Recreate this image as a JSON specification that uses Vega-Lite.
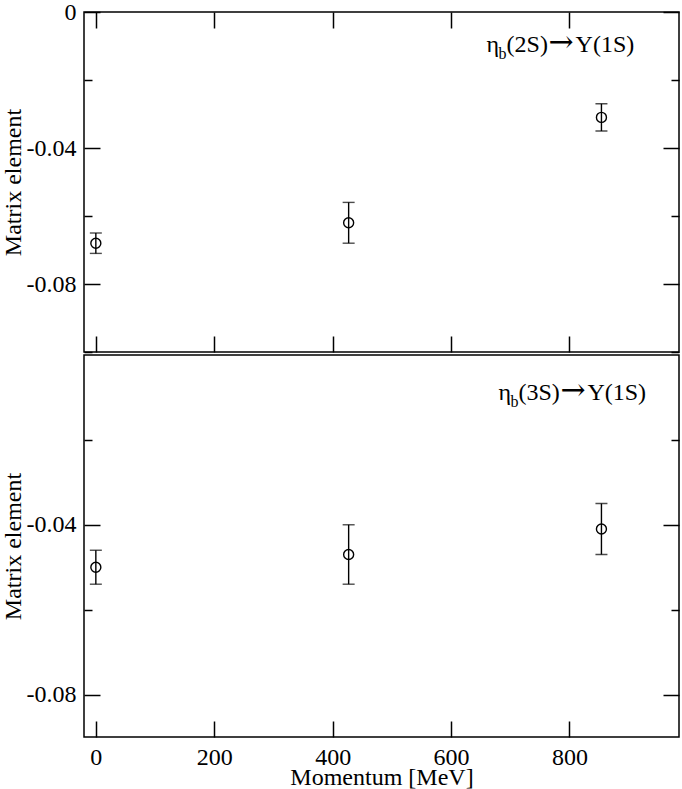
{
  "$schema": "https://vega.github.io/schema/vega-lite/v6.json",
  "autosize": {"type": "pad"},
  "padding": {"left": 0, "top": -1, "right": 3, "bottom": 0},
  "spacing": 0,
  "config": {
    "font": "Liberation Serif",
    "view": {"stroke": "black", "strokeWidth": 1.5},
    "axis": {
      "domain": false, "grid": false,
      "tickColor": "black", "tickWidth": 1.5,
      "labelColor": "black", "labelFontSize": 24, "labelFont": "Liberation Serif",
      "titleColor": "black", "titleFontSize": 24, "titleFont": "Liberation Serif", "titleFontWeight": "normal"
    },
    "text": {"color": "black", "baseline": "alphabetic", "align": "left", "font": "Liberation Serif", "fontSize": 24}
  },
  "datasets": {
    "top": [
      {"p": 0, "v": -0.068, "lo": -0.071, "hi": -0.065},
      {"p": 427, "v": -0.062, "lo": -0.068, "hi": -0.056},
      {"p": 854, "v": -0.031, "lo": -0.035, "hi": -0.027}
    ],
    "bottom": [
      {"p": 0, "v": -0.050, "lo": -0.054, "hi": -0.046},
      {"p": 427, "v": -0.047, "lo": -0.054, "hi": -0.040},
      {"p": 854, "v": -0.041, "lo": -0.047, "hi": -0.035}
    ],
    "labTop": [{"lx": 660, "ly": -0.0118, "a": "η", "b": "b", "c": "(2S)", "d": "→", "e": "Υ(1S)"}],
    "labBottom": [{"lx": 680, "ly": -0.0105, "a": "η", "b": "b", "c": "(3S)", "d": "→", "e": "Υ(1S)"}]
  },
  "vconcat": [
    {
      "width": 595, "height": 340,
      "data": {"name": "top"},
      "layer": [
        {
          "mark": {"type": "errorbar", "color": "black", "ticks": {"size": 12, "thickness": 1.4, "color": "black"}, "rule": {"strokeWidth": 1.4, "color": "black"}},
          "encoding": {
            "x": {"field": "p", "type": "quantitative", "scale": {"domain": [-20, 985]}, "axis": null},
            "y": {"field": "lo", "type": "quantitative", "scale": {"domain": [-0.1, 0]}, "axis": null},
            "y2": {"field": "hi"}
          }
        },
        {
          "mark": {"type": "point", "shape": "circle", "size": 100, "filled": false, "color": "black", "strokeWidth": 1.4, "opacity": 1},
          "encoding": {
            "x": {"field": "p", "type": "quantitative", "scale": {"domain": [-20, 985]},
              "axis": {"orient": "bottom", "values": [0, 200, 400, 600, 800], "labels": false, "title": null, "tickSize": 16, "offset": -16}},
            "y": {"field": "v", "type": "quantitative", "scale": {"domain": [-0.1, 0]},
              "axis": {"orient": "left", "values": [0, -0.04, -0.08], "title": "Matrix element", "titlePadding": 1,
                "labelExpr": "datum.value == 0 ? '0' : (datum.value == -0.04 ? '-0.04' : '-0.08')",
                "tickSize": 16, "offset": -16, "labelPadding": 8}}
          }
        },
        {
          "mark": {"type": "point", "opacity": 0},
          "encoding": {
            "x": {"field": "p", "type": "quantitative", "scale": {"domain": [-20, 985]},
              "axis": {"orient": "top", "values": [0, 200, 400, 600, 800], "labels": false, "title": null, "tickSize": 16, "offset": -16}},
            "y": {"field": "v", "type": "quantitative", "scale": {"domain": [-0.1, 0]},
              "axis": {"orient": "right", "values": [0, -0.04, -0.08], "labels": false, "title": null, "tickSize": 16, "offset": -16}}
          }
        },
        {
          "mark": {"type": "point", "opacity": 0},
          "encoding": {
            "x": {"field": "p", "type": "quantitative", "scale": {"domain": [-20, 985]}, "axis": null},
            "y": {"field": "v", "type": "quantitative", "scale": {"domain": [-0.1, 0]},
              "axis": {"orient": "left", "values": [-0.02, -0.06, -0.1], "labels": false, "title": null, "tickSize": 8, "offset": -8}}
          }
        },
        {
          "mark": {"type": "point", "opacity": 0},
          "encoding": {
            "x": {"field": "p", "type": "quantitative", "scale": {"domain": [-20, 985]}, "axis": null},
            "y": {"field": "v", "type": "quantitative", "scale": {"domain": [-0.1, 0]},
              "axis": {"orient": "right", "values": [-0.02, -0.06, -0.1], "labels": false, "title": null, "tickSize": 8, "offset": -8}}
          }
        },
        {
          "data": {"name": "labTop"},
          "mark": {"type": "text"},
          "encoding": {
            "x": {"field": "lx", "type": "quantitative", "scale": {"domain": [-20, 985]}, "axis": null},
            "y": {"field": "ly", "type": "quantitative", "scale": {"domain": [-0.1, 0]}, "axis": null},
            "text": {"field": "a"}
          }
        },
        {
          "data": {"name": "labTop"},
          "mark": {"type": "text", "fontSize": 16, "dx": 12, "dy": 7},
          "encoding": {
            "x": {"field": "lx", "type": "quantitative", "scale": {"domain": [-20, 985]}, "axis": null},
            "y": {"field": "ly", "type": "quantitative", "scale": {"domain": [-0.1, 0]}, "axis": null},
            "text": {"field": "b"}
          }
        },
        {
          "data": {"name": "labTop"},
          "mark": {"type": "text", "dx": 20},
          "encoding": {
            "x": {"field": "lx", "type": "quantitative", "scale": {"domain": [-20, 985]}, "axis": null},
            "y": {"field": "ly", "type": "quantitative", "scale": {"domain": [-0.1, 0]}, "axis": null},
            "text": {"field": "c"}
          }
        },
        {
          "data": {"name": "labTop"},
          "mark": {"type": "text", "dx": 62, "font": "DejaVu Serif", "fontSize": 30},
          "encoding": {
            "x": {"field": "lx", "type": "quantitative", "scale": {"domain": [-20, 985]}, "axis": null},
            "y": {"field": "ly", "type": "quantitative", "scale": {"domain": [-0.1, 0]}, "axis": null},
            "text": {"field": "d"}
          }
        },
        {
          "data": {"name": "labTop"},
          "mark": {"type": "text", "dx": 89},
          "encoding": {
            "x": {"field": "lx", "type": "quantitative", "scale": {"domain": [-20, 985]}, "axis": null},
            "y": {"field": "ly", "type": "quantitative", "scale": {"domain": [-0.1, 0]}, "axis": null},
            "text": {"field": "e"}
          }
        }
      ],
      "resolve": {"axis": {"x": "independent", "y": "independent"}}
    },
    {
      "width": 595, "height": 382,
      "data": {"name": "bottom"},
      "layer": [
        {
          "mark": {"type": "errorbar", "color": "black", "ticks": {"size": 12, "thickness": 1.4, "color": "black"}, "rule": {"strokeWidth": 1.4, "color": "black"}},
          "encoding": {
            "x": {"field": "p", "type": "quantitative", "scale": {"domain": [-20, 985]}, "axis": null},
            "y": {"field": "lo", "type": "quantitative", "scale": {"domain": [-0.09, 0]}, "axis": null},
            "y2": {"field": "hi"}
          }
        },
        {
          "mark": {"type": "point", "shape": "circle", "size": 100, "filled": false, "color": "black", "strokeWidth": 1.4, "opacity": 1},
          "encoding": {
            "x": {"field": "p", "type": "quantitative", "scale": {"domain": [-20, 985]},
              "axis": {"orient": "bottom", "values": [0, 200, 400, 600, 800], "format": "d", "title": "Momentum [MeV]", "tickSize": 16, "offset": -16, "labelPadding": 8, "titlePadding": -4}},
            "y": {"field": "v", "type": "quantitative", "scale": {"domain": [-0.09, 0]},
              "axis": {"orient": "left", "values": [-0.04, -0.08], "title": "Matrix element", "titlePadding": 1,
                "labelExpr": "datum.value == -0.04 ? '-0.04' : '-0.08'",
                "tickSize": 16, "offset": -16, "labelPadding": 8}}
          }
        },
        {
          "mark": {"type": "point", "opacity": 0},
          "encoding": {
            "x": {"field": "p", "type": "quantitative", "scale": {"domain": [-20, 985]}, "axis": null},
            "y": {"field": "v", "type": "quantitative", "scale": {"domain": [-0.09, 0]},
              "axis": {"orient": "right", "values": [-0.04, -0.08], "labels": false, "title": null, "tickSize": 16, "offset": -16}}
          }
        },
        {
          "mark": {"type": "point", "opacity": 0},
          "encoding": {
            "x": {"field": "p", "type": "quantitative", "scale": {"domain": [-20, 985]}, "axis": null},
            "y": {"field": "v", "type": "quantitative", "scale": {"domain": [-0.09, 0]},
              "axis": {"orient": "left", "values": [-0.02, -0.06], "labels": false, "title": null, "tickSize": 8, "offset": -8}}
          }
        },
        {
          "mark": {"type": "point", "opacity": 0},
          "encoding": {
            "x": {"field": "p", "type": "quantitative", "scale": {"domain": [-20, 985]}, "axis": null},
            "y": {"field": "v", "type": "quantitative", "scale": {"domain": [-0.09, 0]},
              "axis": {"orient": "right", "values": [-0.02, -0.06], "labels": false, "title": null, "tickSize": 8, "offset": -8}}
          }
        },
        {
          "data": {"name": "labBottom"},
          "mark": {"type": "text"},
          "encoding": {
            "x": {"field": "lx", "type": "quantitative", "scale": {"domain": [-20, 985]}, "axis": null},
            "y": {"field": "ly", "type": "quantitative", "scale": {"domain": [-0.09, 0]}, "axis": null},
            "text": {"field": "a"}
          }
        },
        {
          "data": {"name": "labBottom"},
          "mark": {"type": "text", "fontSize": 16, "dx": 12, "dy": 7},
          "encoding": {
            "x": {"field": "lx", "type": "quantitative", "scale": {"domain": [-20, 985]}, "axis": null},
            "y": {"field": "ly", "type": "quantitative", "scale": {"domain": [-0.09, 0]}, "axis": null},
            "text": {"field": "b"}
          }
        },
        {
          "data": {"name": "labBottom"},
          "mark": {"type": "text", "dx": 20},
          "encoding": {
            "x": {"field": "lx", "type": "quantitative", "scale": {"domain": [-20, 985]}, "axis": null},
            "y": {"field": "ly", "type": "quantitative", "scale": {"domain": [-0.09, 0]}, "axis": null},
            "text": {"field": "c"}
          }
        },
        {
          "data": {"name": "labBottom"},
          "mark": {"type": "text", "dx": 62, "font": "DejaVu Serif", "fontSize": 30},
          "encoding": {
            "x": {"field": "lx", "type": "quantitative", "scale": {"domain": [-20, 985]}, "axis": null},
            "y": {"field": "ly", "type": "quantitative", "scale": {"domain": [-0.09, 0]}, "axis": null},
            "text": {"field": "d"}
          }
        },
        {
          "data": {"name": "labBottom"},
          "mark": {"type": "text", "dx": 89},
          "encoding": {
            "x": {"field": "lx", "type": "quantitative", "scale": {"domain": [-20, 985]}, "axis": null},
            "y": {"field": "ly", "type": "quantitative", "scale": {"domain": [-0.09, 0]}, "axis": null},
            "text": {"field": "e"}
          }
        }
      ],
      "resolve": {"axis": {"x": "independent", "y": "independent"}}
    }
  ]
}
